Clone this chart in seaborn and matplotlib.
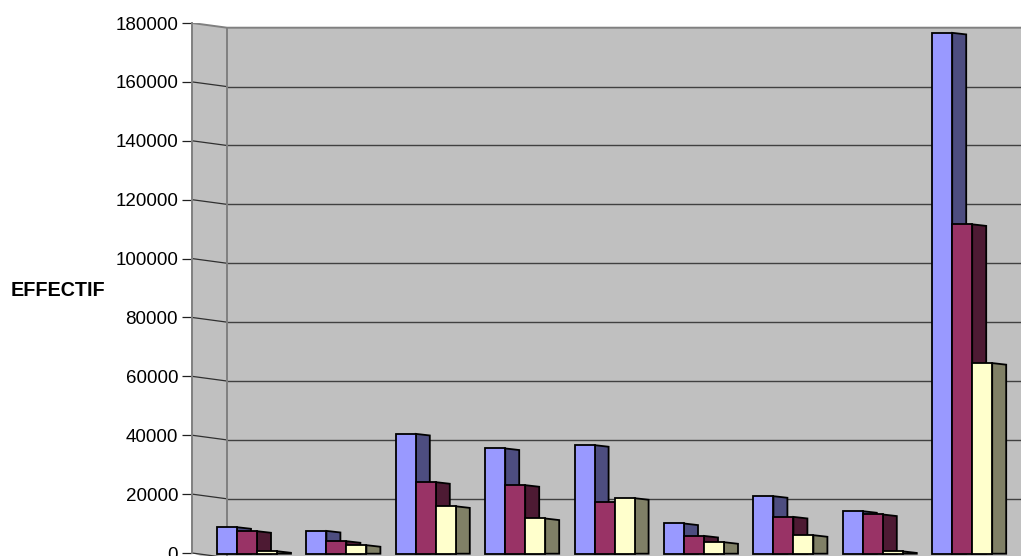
import pandas as pd
import matplotlib
matplotlib.use("Agg")
import matplotlib.pyplot as plt
import seaborn as sns

categories = ["1", "2", "3", "4", "5", "6", "7", "8", "9"]
series_a = [9000, 7750, 40700, 35750, 36870, 10260, 19540, 14440, 176900]
series_b = [7650, 4250, 24300, 23280, 17500, 6050, 12510, 13320, 111870]
series_c = [850, 2900, 16100, 11960, 18860, 3910, 6290, 800, 64740]
series_names = ["A", "B", "C"]
y_ticks = list(range(0, 180001, 20000))

front_colors = ["#9999FF", "#993366", "#FFFFCC"]
side_colors = ["#4D4D80", "#4D1A33", "#808066"]

W, H = 1021, 556
PX_X = 89.4  # one category in pixels
PX_Y = 58.85 / 20000  # one value unit in pixels
BASE = -0.7 / PX_Y  # bars stand a little below the zero tick


def build_table():
    frames = []
    for name, vals in zip(series_names, [series_a, series_b, series_c]):
        frames.append(pd.DataFrame({"cat": categories, "serie": name, "val": vals}))
    return pd.concat(frames, ignore_index=True)


def main():
    sns.set_theme(style="ticks")
    plt.rcParams["font.family"] = ["Liberation Sans", "DejaVu Sans"]

    fig = plt.figure(figsize=(W / 100, H / 100), dpi=100)
    ax = fig.add_axes([192 / W, 3 / H, (W - 192) / W, 530 / H])

    sns.barplot(data=build_table(), x="cat", y="val", hue="serie", palette=front_colors,
                saturation=1, width=0.671, gap=0, edgecolor="black", linewidth=1.3,
                legend=False, zorder=3, bottom=BASE, ax=ax)

    x0 = -55 / PX_X
    x1 = x0 + (W - 192) / PX_X
    ax.set_xlim(x0, x1)
    ax.set_ylim(0, 180000)
    ax.patch.set_alpha(0)

    # walls in fake 3d
    wall_dx = 35 / PX_X
    wall_dy = 4.7 / PX_Y
    low = -4000
    wall_x = [x0, x0 + wall_dx, x0 + wall_dx, x1, x1, x0 + wall_dx, x0]
    wall_y = [180000, 180000 - wall_dy, 180000 - wall_dy, 180000 - wall_dy, low, low, -0]
    ax.fill(wall_x, wall_y, color="#C0C0C0", lw=0, zorder=0, clip_on=False)
    for t in y_ticks[:-1]:
        ax.plot([x0, x0 + wall_dx], [t, t - wall_dy], color="#303030", lw=0.9, zorder=1, clip_on=False)
        ax.plot([x0 + wall_dx, x1], [t - wall_dy, t - wall_dy], color="#404040", lw=1.0, zorder=1, clip_on=False)
    top = y_ticks[-1]
    ax.plot([x0, x0 + wall_dx, x1], [top, top - wall_dy, top - wall_dy], color="#808080", lw=1.4, zorder=1)
    ax.plot([x0 + wall_dx, x0 + wall_dx], [top - wall_dy, low], color="#808080", lw=1.4, zorder=1, clip_on=False)

    # side faces of the bars, taken from the seaborn bars
    side_dx = 14 / PX_X
    side_dy = 1.6 / PX_Y
    for cont, col in zip(ax.containers, side_colors):
        for p in cont:
            right = p.get_x() + p.get_width()
            v = p.get_y() + p.get_height()
            ax.fill([right, right + side_dx, right + side_dx, right],
                    [v, v - side_dy, BASE, BASE],
                    facecolor=col, edgecolor="black", lw=1.3, zorder=2, clip_on=False)

    for p in ax.patches:
        p.set_clip_on(False)

    sns.despine(ax=ax, bottom=True, right=True, top=True)
    ax.spines["left"].set_color("#808080")
    ax.spines["left"].set_linewidth(1.4)
    ax.set_yticks(y_ticks)
    ax.set_yticklabels([str(t) for t in y_ticks], fontsize=13.5)
    ax.tick_params(axis="y", length=7, width=0.9, color="#202020", pad=3, labelcolor="black")
    ax.set_xticks([])
    ax.set_xlabel("")
    ax.set_ylabel("")

    fig.text(11 / W, 1 - 290 / H, "EFFECTIF", fontsize=14.2, fontweight="bold", va="center", ha="left", color="black")

    fig.savefig("out.png", dpi=100)


if __name__ == "__main__":
    main()
